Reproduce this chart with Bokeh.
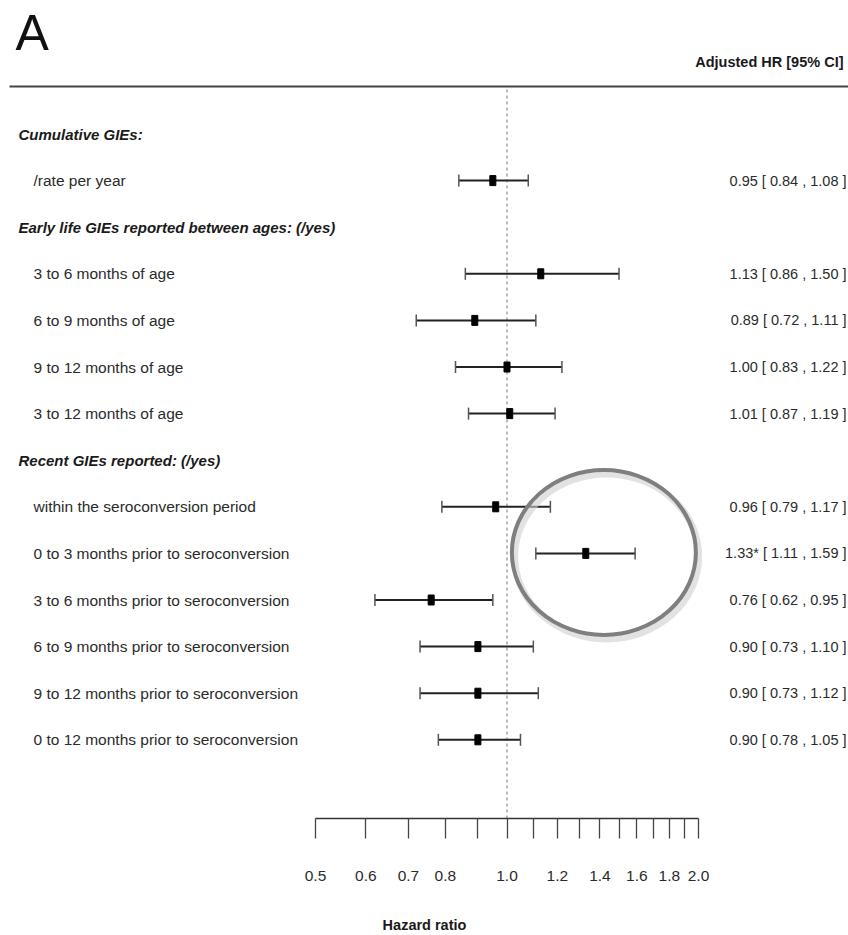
import numpy as np
from bokeh.plotting import figure
from bokeh.models import Range1d, LogAxis, FixedTicker, CustomJSTickFormatter, ColumnDataSource
from bokeh.core.properties import value
from bokeh.embed import file_html
from bokeh.resources import INLINE

# ---- data -----------------------------------------------------------------
row_labels = [
    "Cumulative GIEs:",
    "/rate per year",
    "Early life GIEs reported between ages: (/yes)",
    "3 to 6 months of age",
    "6 to 9 months of age",
    "9 to 12 months of age",
    "3 to 12 months of age",
    "Recent GIEs reported: (/yes)",
    "within the seroconversion period",
    "0 to 3 months prior to seroconversion",
    "3 to 6 months prior to seroconversion",
    "6 to 9 months prior to seroconversion",
    "9 to 12 months prior to seroconversion",
    "0 to 12 months prior to seroconversion",
]
is_header = [True, False, True, False, False, False, False,
             True, False, False, False, False, False, False]
hazard_ratio = [None, 0.95, None, 1.13, 0.89, 1.00, 1.01,
                None, 0.96, 1.33, 0.76, 0.90, 0.90, 0.90]
ci_low = [None, 0.84, None, 0.86, 0.72, 0.83, 0.87,
          None, 0.79, 1.11, 0.62, 0.73, 0.73, 0.78]
ci_high = [None, 1.08, None, 1.50, 1.11, 1.22, 1.19,
           None, 1.17, 1.59, 0.95, 1.10, 1.12, 1.05]
significant = [False, False, False, False, False, False, False,
               False, False, True, False, False, False, False]

tick_values = [0.5, 0.6, 0.7, 0.8, 0.9, 1.0, 1.1, 1.2, 1.3, 1.4,
               1.5, 1.6, 1.7, 1.8, 1.9, 2.0]
tick_labels = ["0.5", "0.6", "0.7", "0.8", "", "1.0", "", "1.2", "", "1.4",
               "", "1.6", "", "1.8", "", "2.0"]

highlight_row = 9           # row circled in the figure
highlight_center_hr = 1.42  # horizontal centre of the circle

# ---- layout helpers ------------------------------------------------------
W, H = 848, 935
FRAME_H = 818                 # frame bottom = axis line
X_LO_PX, X_HI_PX = 315, 698   # screen x of HR 0.5 and HR 2.0
ROW0_PX, ROW_STEP = 133.5, 46.6

FONT = "Liberation Sans"
TXT = "#2b2b2b"


def hr_at(px):
    return 0.5 * 4 ** ((px - X_LO_PX) / (X_HI_PX - X_LO_PX))


def row_at(py):
    return (py - ROW0_PX) / ROW_STEP


p = figure(width=W, height=H, output_backend="svg", toolbar_location=None,
           x_axis_type="log", x_axis_location=None, y_axis_location=None,
           x_range=Range1d(hr_at(0), hr_at(W)),
           y_range=Range1d(row_at(FRAME_H), row_at(0)),
           min_border_left=0, min_border_right=0, min_border_top=0,
           min_border_bottom=H - FRAME_H)
p.grid.visible = False
p.outline_line_color = None
p.background_fill_color = "white"
p.border_fill_color = "white"

# ---- x axis ----------------------------------------------------------------
fmt = CustomJSTickFormatter(args=dict(v=tick_values, l=tick_labels), code="""
    const i = v.findIndex(t => Math.abs(t - tick) < 1e-6);
    return i >= 0 ? l[i] : "";
""")
axis = LogAxis(bounds=(0.5, 2.0), ticker=FixedTicker(ticks=tick_values),
               formatter=fmt, axis_label="Hazard ratio",
               axis_line_color="#333333", axis_line_width=1.5,
               major_tick_in=0, major_tick_out=20, minor_tick_out=0,
               major_tick_line_color="#444444", major_tick_line_width=1.3,
               major_label_standoff=32,
               major_label_text_font=FONT, major_label_text_font_size="15.5px",
               major_label_text_color=TXT,
               axis_label_standoff=33, axis_label_text_font=FONT,
               axis_label_text_font_size="14.5px", axis_label_text_font_style="bold",
               axis_label_text_color="#1a1a1a")
p.add_layout(axis, "below")

# ---- header & rule -----------------------------------------------------------
p.text(x=[hr_at(15)], y=[row_at(32)], text=["A"], text_font=value(FONT),
       text_font_size="50px", text_baseline="middle", text_color="#111111")
p.text(x=[hr_at(843)], y=[row_at(61)], text=["Adjusted HR [95% CI]"],
       text_font=value(FONT), text_font_size="14.5px", text_font_style="bold",
       text_align="right", text_baseline="middle", text_color="#1a1a1a")
p.segment(x0=[hr_at(9)], x1=[hr_at(W)], y0=[row_at(86)], y1=[row_at(86)],
          line_color="#444444", line_width=2)

# reference line at HR = 1
p.segment(x0=[1.0], x1=[1.0], y0=[row_at(89)], y1=[row_at(FRAME_H)],
          line_color="#777777", line_width=1, line_dash="3 3")

# ---- row labels ----------------------------------------------------------------
rows = list(range(len(row_labels)))
hdr_rows = [i for i in rows if is_header[i]]
item_rows = [i for i in rows if not is_header[i]]

p.text(x=[hr_at(18)] * len(hdr_rows), y=hdr_rows,
       text=[row_labels[i] for i in hdr_rows], text_font=value(FONT),
       text_font_size="15px", text_font_style="bold italic",
       text_baseline="middle", text_color="#1a1a1a")
p.text(x=[hr_at(33)] * len(item_rows), y=item_rows,
       text=[row_labels[i] for i in item_rows], text_font=value(FONT),
       text_font_size="15.5px", text_baseline="middle", text_color=TXT)

# ---- estimates ---------------------------------------------------------------
est = ColumnDataSource(dict(
    y=item_rows,
    hr=[hazard_ratio[i] for i in item_rows],
    lo=[ci_low[i] for i in item_rows],
    hi=[ci_high[i] for i in item_rows],
    lab=[f"{hazard_ratio[i]:.2f}{'*' if significant[i] else ''} "
         f"[ {ci_low[i]:.2f} , {ci_high[i]:.2f} ]" for i in item_rows],
))
p.segment(x0="lo", x1="hi", y0="y", y1="y", source=est,
          line_color="#222222", line_width=2)
p.scatter(x="lo", y="y", source=est, marker="dash", angle=np.pi / 2, size=12,
          line_color="#555555", line_width=1.5)
p.scatter(x="hi", y="y", source=est, marker="dash", angle=np.pi / 2, size=12,
          line_color="#555555", line_width=1.5)
p.rect(x="hr", y="y", width=6, height=10, width_units="screen",
       height_units="screen", source=est, fill_color="black", line_color="black")

p.text(x=hr_at(846), y="y", text="lab", source=est, text_font=value(FONT),
       text_font_size="14.5px", text_align="right", text_baseline="middle",
       text_color=TXT)

# ---- highlight circle -----------------------------------------------------------
p.ellipse(x=[highlight_center_hr * 1.01], y=[highlight_row + 3 / ROW_STEP],
          width=184, height=165, width_units="screen", height_units="screen",
          fill_color=None, line_color="#cfcfcf", line_width=7, line_alpha=0.6)
p.ellipse(x=[highlight_center_hr], y=[highlight_row - 0.02],
          width=184, height=165, width_units="screen", height_units="screen",
          fill_color=None, line_color="#7f7f7f", line_width=4)

open("out.html", "w").write(file_html(p, INLINE))
